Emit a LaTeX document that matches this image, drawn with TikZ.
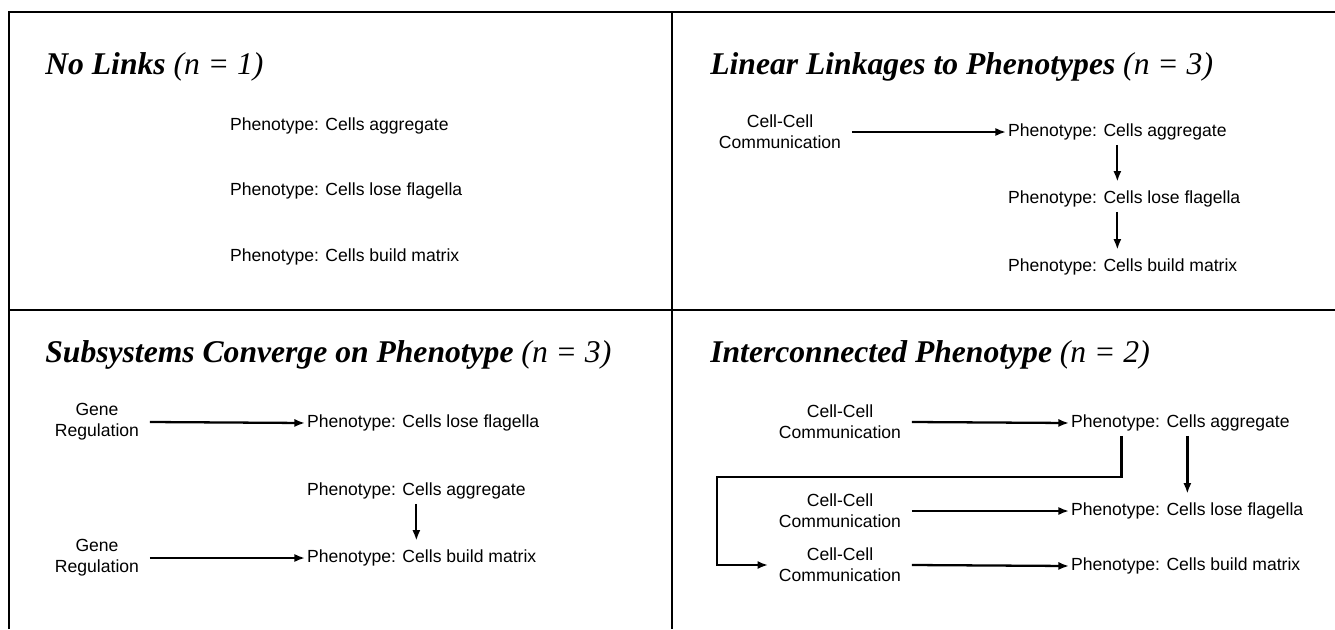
\documentclass[tikz,border=0pt]{standalone}
\usepackage{fontspec}
\setmainfont{Liberation Serif}
\setsansfont{Liberation Sans}
\usetikzlibrary{arrows.meta}

\begin{document}
\begin{tikzpicture}[x=0.02cm, y=-0.02cm, >={Latex[length=6pt,width=4.6pt]},
  frame/.style={line width=1.4pt},
  heading/.style={anchor=base west, inner sep=0pt, font=\fontsize{18}{22}\selectfont\bfseries\itshape},
  pheno/.style={anchor=west, inner sep=1pt, font=\sffamily\fontsize{10}{12}\selectfont},
  source/.style={align=center, inner xsep=6pt, inner ysep=1pt, font=\sffamily\fontsize{10}{12}\selectfont},
  link/.style={->, line width=1.3pt},
  down/.style={link, shorten <=1.5pt, shorten >=4pt}]
\useasboundingbox (0,0) rectangle (1335,629);
% frame
\draw[frame] (9,629) -- (9,12) -- (1335,12);
\draw[frame] (672,12) -- (672,629);
\draw[frame] (9,310) -- (1335,310);
% No Links
\node[heading] (ttl1) at (45,74) {No Links \textmd{(n = 1)}};
\node[pheno] (agg1) at (228,126) {Phenotype: Cells aggregate};
\node[pheno] (flag1) at (228,191) {Phenotype: Cells lose flagella};
\node[pheno] (mat1) at (228,257) {Phenotype: Cells build matrix};
% Linear Linkages
\node[heading] (ttl2) at (710,74) {Linear Linkages to Phenotypes \textmd{(n = 3)}};
\node[source] (comm2) at (780,132) {Cell-Cell\\Communication};
\node[pheno] (agg2) at (1006,132) {Phenotype: Cells aggregate};
\node[pheno] (flag2) at (1006,199) {Phenotype: Cells lose flagella};
\node[pheno] (mat2) at (1006,267) {Phenotype: Cells build matrix};
\draw[link] (comm2.east) -- (agg2.west);
\draw[down] (agg2.south) -- (agg2.south |- flag2.north);
\draw[down] (flag2.south -| agg2.south) -- (agg2.south |- mat2.north);
% Subsystems Converge
\node[heading] (ttl3) at (45,362) {Subsystems Converge on Phenotype \textmd{(n = 3)}};
\node[source] (gene3a) at (97,422) {Gene\\Regulation};
\node[pheno] (flag3) at (305,423) {Phenotype: Cells lose flagella};
\node[pheno] (agg3) at (305,491) {Phenotype: Cells aggregate};
\node[source] (gene3b) at (97,558) {Gene\\Regulation};
\node[pheno] (mat3) at (305,558) {Phenotype: Cells build matrix};
\draw[link] (gene3a.east) -- (flag3.west);
\draw[link] (gene3b.east) -- (mat3.west);
\draw[down] (agg3.south) -- (agg3.south |- mat3.north);
% Interconnected
\node[heading] (ttl4) at (710,362) {Interconnected Phenotype \textmd{(n = 2)}};
\node[source] (comm4a) at (840,422) {Cell-Cell\\Communication};
\node[source] (comm4b) at (840,511) {Cell-Cell\\Communication};
\node[source] (comm4c) at (840,565) {Cell-Cell\\Communication};
\node[pheno] (agg4) at (1069,423) {Phenotype: Cells aggregate};
\node[pheno] (flag4) at (1069,511) {Phenotype: Cells lose flagella};
\node[pheno] (mat4) at (1069,566) {Phenotype: Cells build matrix};
\coordinate (bend) at (717,477);
\draw[link] (comm4a.east) -- (agg4.west);
\draw[link] (comm4b.east) -- (flag4.west);
\draw[link] (comm4c.east) -- (mat4.west);
\draw[down] ([xshift=4pt]agg4.south) -- ([xshift=4pt]agg4.south |- flag4.north);
\draw[link, shorten <=1.5pt] ([xshift=-33.5pt]agg4.south) |- (bend) |- (comm4c.west);
\end{tikzpicture}
\end{document}
